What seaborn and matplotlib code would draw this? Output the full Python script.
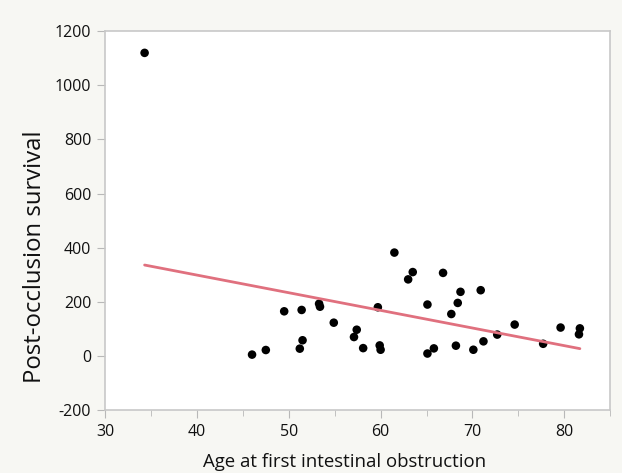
import numpy as np
import pandas as pd
import seaborn as sns
import matplotlib.pyplot as plt
from matplotlib.ticker import MultipleLocator

# values
age = [34.3, 46.0, 47.5, 49.5, 51.4, 51.5, 51.2, 53.3, 53.4, 54.9,
       57.4, 57.1, 58.1, 59.7, 59.9, 60.0, 61.5, 63.0, 63.5, 66.8,
       65.1, 68.7, 68.4, 67.7, 70.9, 65.1, 65.8, 68.2, 70.1, 71.2,
       72.7, 74.6, 77.7, 79.6, 81.7, 81.6]
survival = [1120, 5, 22, 165, 170, 58, 27, 193, 182, 123,
            97, 70, 29, 180, 39, 23, 382, 283, 310, 307,
            190, 237, 196, 155, 243, 9, 28, 38, 23, 54,
            79, 116, 45, 105, 102, 80]

df = pd.DataFrame({"age": age, "survival": survival})

sns.set_style("white")
plt.rcParams["font.family"] = ["Open Sans", "DejaVu Sans"]
plt.rcParams["axes.unicode_minus"] = False

fig = plt.figure(figsize=(6.22, 4.73), dpi=100, facecolor="#f7f7f3")
ax = fig.add_axes([0.169, 0.133, 0.812, 0.801])
ax.set_facecolor("white")

sns.regplot(data=df, x="age", y="survival", ci=None, ax=ax,
            scatter_kws={"color": "black", "s": 38, "edgecolor": "none", "alpha": 1},
            line_kws={"color": "#e0707e", "linewidth": 2})

ax.set_xlim(30, 85)
ax.set_ylim(-200, 1200)
ax.xaxis.set_major_locator(MultipleLocator(10))
ax.xaxis.set_minor_locator(MultipleLocator(5))
ax.yaxis.set_major_locator(MultipleLocator(200))

for s in ax.spines.values():
    s.set_color("#c8c8c8")
    s.set_linewidth(1.2)

ax.tick_params(which="both", direction="out", color="#b8b8b8", bottom=True, left=True)
ax.tick_params(which="major", length=6, labelsize=11.5, pad=4, labelcolor="#111111")
ax.tick_params(which="minor", length=4)

ax.set_xlabel("Age at first intestinal obstruction", fontsize=13.4, va="center", color="#111111")
ax.set_ylabel("Post-occlusion survival", fontsize=17.2, va="center", color="#111111")
ax.xaxis.set_label_coords(0.475, -0.137)
ax.yaxis.set_label_coords(-0.139, 0.405)

fig.savefig("out.png", dpi=100, facecolor=fig.get_facecolor())
